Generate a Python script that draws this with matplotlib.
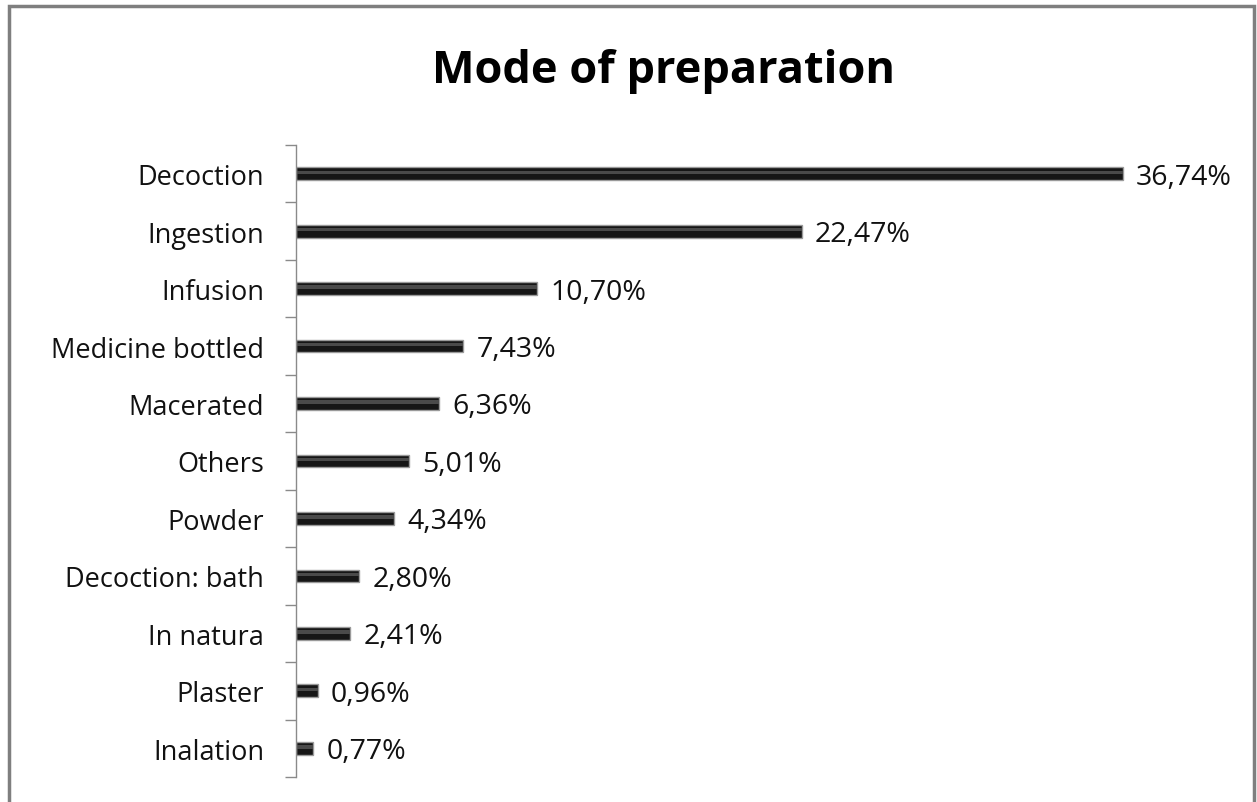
import matplotlib.pyplot as plt
from matplotlib.patches import Rectangle

plt.rcParams['font.family'] = ['Open Sans', 'DejaVu Sans']

# share of each preparation mode, in percent
modes = ['Decoction', 'Ingestion', 'Infusion', 'Medicine bottled', 'Macerated',
         'Others', 'Powder', 'Decoction: bath', 'In natura', 'Plaster', 'Inalation']
shares = [36.74, 22.47, 10.70, 7.43, 6.36, 5.01, 4.34, 2.80, 2.41, 0.96, 0.77]
value_labels = ['36,74%', '22,47%', '10,70%', '7,43%', '6,36%', '5,01%',
                '4,34%', '2,80%', '2,41%', '0,96%', '0,77%']

W, H = 1257, 803
fig = plt.figure(figsize=(W / 100, H / 100), dpi=100)
ax = fig.add_axes([296 / W, 1 - 778 / H, (1200 - 296) / W, (778 - 146) / H])

pos = list(range(len(modes)))
# dark bar with a lighter bevel band in its upper half
ax.barh(pos, shares, height=0.22, color='#161616', edgecolor='#9a9a9a', linewidth=1.0)
ax.barh([p - 0.025 for p in pos], shares, height=0.06, color='#4a4a4a', linewidth=0)

for y, v, lab in zip(pos, shares, value_labels):
    ax.text(v + 0.6, y + 0.05, lab, va='center', ha='left', fontsize=20.5, color='#111111')

ax.set_xlim(0, (1200 - 296) / 22.5)
ax.set_ylim(len(modes) - 0.5, -0.5)
ax.set_yticks(pos)
ax.set_yticklabels(modes, fontsize=19.5, color='#111111')
ax.set_yticks([p - 0.5 for p in pos] + [len(modes) - 0.5], minor=True)
ax.tick_params(axis='y', which='major', length=0, pad=23)
ax.tick_params(axis='y', which='minor', length=8, width=1.0, color='#8a8a8a')
ax.set_xticks([])
for s in ['top', 'right', 'bottom']:
    ax.spines[s].set_visible(False)
ax.spines['left'].set_color('#8a8a8a')
ax.spines['left'].set_linewidth(1.0)

fig.text(663 / W, 1 - 83 / H, 'Mode of preparation', ha='center', va='baseline',
         fontsize=32.5, fontweight='bold', color='black')

# outer frame
fig.patches.append(Rectangle((9 / W, -0.05), (1254 - 9) / W, 1 - 7 / H + 0.05,
                             transform=fig.transFigure, fill=False,
                             edgecolor='#7f7f7f', linewidth=2.5))

fig.savefig('out.png', dpi=100)
